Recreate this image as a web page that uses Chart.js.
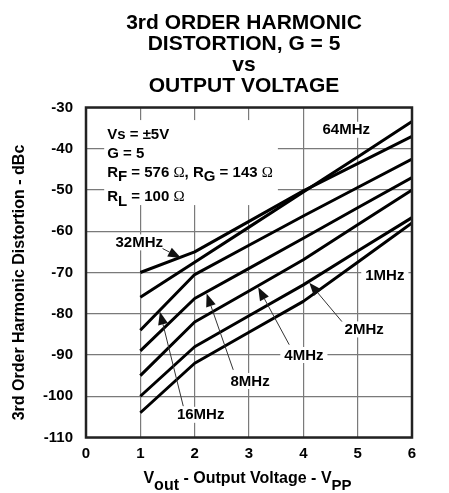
<!DOCTYPE html>
<html><head><meta charset="utf-8">
<script src="https://cdn.jsdelivr.net/npm/chart.js@4"></script>
<style>html,body{margin:0;padding:0;background:#fff}#wrap{width:449px;height:493px}</style>
</head><body><div id="wrap"><canvas id="c" width="449" height="493"></canvas></div>
<script>
// ---- data ----
const voltages = [1, 2, 3, 4, 5, 6];           // Vout, Vpp
const hd3_1MHz  = [-104, -92.0, -84.5, -77.0, -67.5, -58.0];
const hd3_2MHz  = [-100, -88.0, -80.5, -73.0, -64.8, -56.7];
const hd3_4MHz  = [-95, -82.0, -74.5, -66.9, -58.4, -50.0];
const hd3_8MHz  = [-89, -76.3, -69.0, -61.7, -54.3, -47.0];
const hd3_16MHz = [-84, -70.5, -63.4, -56.3, -49.4, -42.5];
const hd3_32MHz = [-70, -65.0, -57.6, -50.2, -43.6, -37.0];
const hd3_64MHz = [-76, -67.5, -59.0, -50.5, -42.0, -33.4];
const xTicks = [0, 1, 2, 3, 4, 5, 6];
const yTicks = [-110, -100, -90, -80, -70, -60, -50, -40, -30];
const titleLines = ['3rd ORDER HARMONIC', 'DISTORTION, G = 5', 'vs', 'OUTPUT VOLTAGE'];
const freqNames = ['64MHz', '32MHz', '16MHz', '8MHz', '4MHz', '2MHz', '1MHz'];
// label positions in data units [x, y]
const labelPos = [[4.79, -35.4], [0.98, -62.7], [2.11, -104.5], [3.02, -96.3], [4.01, -90.0], [5.12, -83.8], [5.5, -70.6]];
// arrows: [tailX, tailY, tipX, tipY] in data units, null = no arrow
const arrowPts = [null, [1.41, -64.2, 1.75, -66.5], [1.79, -102.4, 1.36, -79.5], [2.71, -93.6, 2.22, -75.1], [3.74, -87.5, 3.17, -73.6], [4.71, -81.9, 4.11, -72.5], null];
const condAnchor = [0.39, -36.2];

const FONT = '"Liberation Sans", Arial, Helvetica, sans-serif';
const SERIF = '"Liberation Serif", "Times New Roman", serif';
const series = [hd3_1MHz, hd3_2MHz, hd3_4MHz, hd3_8MHz, hd3_16MHz, hd3_32MHz, hd3_64MHz];

function bold(sz){ return 'bold ' + sz + 'px ' + FONT; }

// rich text: parts = [{t, f, dy}]
function richWidth(ctx, parts){ let w=0; for(const p of parts){ ctx.font=p.f; w+=ctx.measureText(p.t).width; } return w; }
function drawRich(ctx, parts, x, y){ let cx=x; ctx.textAlign='left'; ctx.textBaseline='alphabetic';
  for(const p of parts){ ctx.font=p.f; ctx.fillText(p.t, cx, y+(p.dy||0)); cx+=ctx.measureText(p.t).width; } return cx; }

const decor = {
  id:'decor',
  beforeDatasetsDraw(chart){
    const ctx = chart.ctx, xs = chart.scales.x, ys = chart.scales.y;
    ctx.save();
    ctx.fillStyle = '#000';
    // conditions block
    const B = bold(15), O = '15px ' + SERIF;
    const lines = [
      [{t:'Vs = \u00B15V', f:B}],
      [{t:'G = 5', f:B}],
      [{t:'R', f:B}, {t:'F', f:B, dy:4}, {t:' = 576 ', f:B}, {t:'\u03A9', f:O}, {t:', R', f:B}, {t:'G', f:B, dy:4}, {t:' = 143 ', f:B}, {t:'\u03A9', f:O}],
      [{t:'R', f:B}, {t:'L', f:B, dy:5}, {t:' = 100 ', f:B}, {t:'\u03A9', f:O}]
    ];
    const lx = xs.getPixelForValue(condAnchor[0]);
    const ly0 = ys.getPixelForValue(condAnchor[1]);
    const gaps = [0, 19, 38, 62];
    let maxW = 0; for(const l of lines) maxW = Math.max(maxW, richWidth(ctx, l));
    ctx.fillStyle = '#fff';
    ctx.fillRect(lx - 3, ly0 - 13, maxW + 8, gaps[3] + 23);
    ctx.fillStyle = '#000';
    lines.forEach((l,i)=> drawRich(ctx, l, lx, ly0 + 5.5 + gaps[i]));
    // frequency labels
    ctx.font = B;
    freqNames.forEach((name,i)=>{
      const px = xs.getPixelForValue(labelPos[i][0]), py = ys.getPixelForValue(labelPos[i][1]);
      const w = ctx.measureText(name).width;
      ctx.fillStyle = '#fff';
      ctx.fillRect(px - w/2 - 4, py - 8, w + 8, 16);
      ctx.fillStyle = '#000';
      ctx.textAlign = 'center'; ctx.textBaseline = 'middle';
      ctx.fillText(name, px, py + 0.5);
    });
    ctx.restore();
  },
  afterDatasetsDraw(chart){
    const ctx = chart.ctx, xs = chart.scales.x, ys = chart.scales.y, a = chart.chartArea;
    ctx.save();
    // arrows
    arrowPts.forEach(p=>{
      if(!p) return;
      const x1 = xs.getPixelForValue(p[0]), y1 = ys.getPixelForValue(p[1]);
      const x2 = xs.getPixelForValue(p[2]), y2 = ys.getPixelForValue(p[3]);
      const ang = Math.atan2(y2 - y1, x2 - x1), L = 13, W = 5;
      const bx = x2 - L*Math.cos(ang), by = y2 - L*Math.sin(ang);
      ctx.strokeStyle = '#333'; ctx.lineWidth = 1;
      ctx.beginPath(); ctx.moveTo(x1, y1); ctx.lineTo(bx, by); ctx.stroke();
      ctx.fillStyle = '#111';
      ctx.beginPath(); ctx.moveTo(x2, y2);
      ctx.lineTo(bx + W*Math.sin(ang), by - W*Math.cos(ang));
      ctx.lineTo(bx - W*Math.sin(ang), by + W*Math.cos(ang));
      ctx.closePath(); ctx.fill();
    });
    // frame
    ctx.strokeStyle = '#222'; ctx.lineWidth = 2.5;
    ctx.strokeRect(a.left, a.top, a.right - a.left, a.bottom - a.top);
    ctx.restore();
  },
  afterDraw(chart){
    const ctx = chart.ctx, a = chart.chartArea;
    ctx.save(); ctx.fillStyle = '#000';
    // title
    ctx.font = bold(21); ctx.textAlign = 'center'; ctx.textBaseline = 'alphabetic';
    titleLines.forEach((t,i)=> ctx.fillText(t, 244, 28.5 + 21*i));
    // y axis title
    ctx.save();
    ctx.translate(20, (a.top + a.bottom)/2 + 10);
    ctx.rotate(-Math.PI/2);
    ctx.font = bold(16); ctx.textAlign = 'center'; ctx.textBaseline = 'middle';
    ctx.fillText('3rd Order Harmonic Distortion - dBc', 0, 0);
    ctx.restore();
    // x axis title
    const F = bold(16);
    const parts = [{t:'V', f:F}, {t:'out', f:F, dy:7}, {t:' - Output Voltage - V', f:F}, {t:'PP', f:bold(15), dy:7}];
    const w = richWidth(ctx, parts);
    drawRich(ctx, parts, 247.5 - w/2, 483);
    ctx.restore();
  }
};

const ctx = document.getElementById('c').getContext('2d');
new Chart(ctx, {
  type: 'line',
  data: {
    datasets: series.map((vals, k) => ({
      label: freqNames[6 - k],
      data: voltages.map((v, i) => ({x: v, y: vals[i]})),
      borderColor: '#000', borderWidth: 3, pointRadius: 0, tension: 0, fill: false,
      borderJoinStyle: 'round'
    }))
  },
  options: {
    responsive: false, animation: false, devicePixelRatio: 1,
    layout: {padding: {top: 107.5, right: 37, left: 0, bottom: 0}},
    plugins: {legend: {display: false}, title: {display: false}, tooltip: {enabled: false}},
    scales: {
      x: {
        type: 'linear', min: xTicks[0], max: xTicks[xTicks.length - 1],
        ticks: {stepSize: 1, color: '#000', font: {family: FONT, size: 15, weight: 'bold'}, padding: 7},
        grid: {color: '#7a7a7a', lineWidth: 1.2, drawTicks: false},
        border: {display: false},
        afterFit(s){ s.height = 55.5; }
      },
      y: {
        type: 'linear', min: yTicks[0], max: yTicks[yTicks.length - 1],
        ticks: {stepSize: 10, color: '#000', font: {family: FONT, size: 15, weight: 'bold'}, padding: 13},
        grid: {color: '#7a7a7a', lineWidth: 1.2, drawTicks: false},
        border: {display: false},
        afterFit(s){ s.width = 86; }
      }
    }
  },
  plugins: [decor]
});
</script></body></html>
